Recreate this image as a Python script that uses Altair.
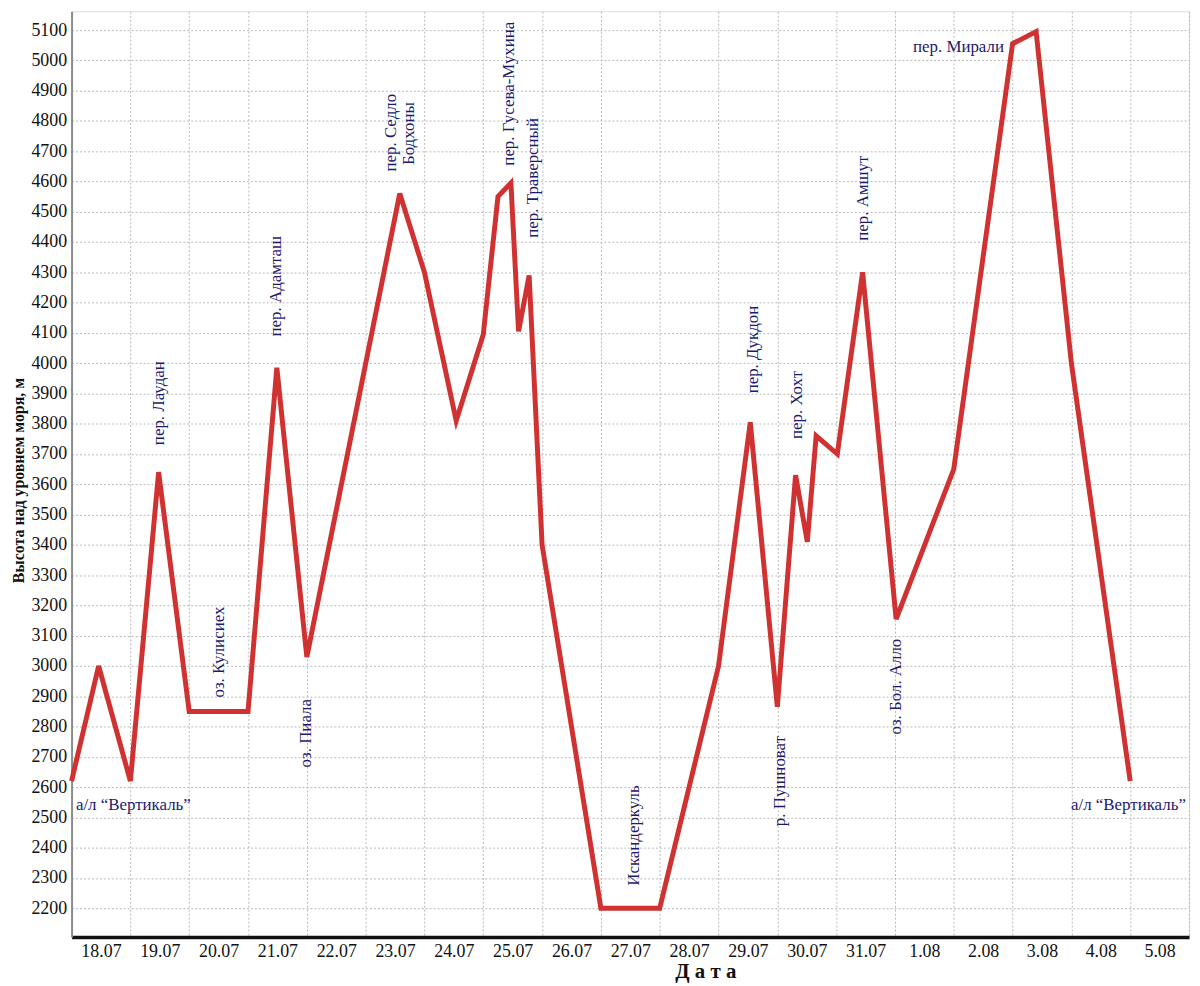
import json
import altair as alt
import pandas as pd

# ---- data ----
day_labels = ["18.07", "19.07", "20.07", "21.07", "22.07", "23.07", "24.07",
              "25.07", "26.07", "27.07", "28.07", "29.07", "30.07", "31.07",
              "1.08", "2.08", "3.08", "4.08", "5.08"]

route_day = [0.00, 0.46, 1.00, 1.48, 2.00, 3.00, 3.49, 4.00, 5.58, 6.00,
             6.54, 7.00, 7.25, 7.47, 7.60, 7.78, 8.00, 9.00, 10.00, 11.00,
             11.54, 12.00, 12.31, 12.51, 12.66, 13.02, 13.45, 14.02, 15.00,
             16.00, 16.40, 17.00, 18.00]
route_alt = [2620, 3000, 2620, 3640, 2850, 2850, 3985, 3030, 4560, 4300,
             3810, 4095, 4550, 4595, 4105, 4290, 3400, 2200, 2200, 3000,
             3805, 2865, 3630, 3410, 3760, 3700, 4300, 3155, 3650,
             5055, 5095, 4000, 2620]

vert_text = ["пер. Лаудан", "оз. Кулисиех", "пер. Адамташ", "оз. Пиала",
             "пер. Седло", "Бодхоны", "пер. Гусева-Мухина", "пер. Траверсный",
             "Искандеркуль", "пер. Дукдон", "р. Пушноват", "пер. Хохт",
             "пер. Амшут", "оз. Бол. Алло"]
vert_day = [1.49, 2.50, 3.48, 3.99, 5.43, 5.74, 7.44, 7.84,
            9.56, 11.58, 12.05, 12.33, 13.45, 14.01]
vert_alt = [3868, 3046, 4254, 2778, 4761, 4758, 4890, 4612,
            2440, 4045, 2620, 3862, 4545, 2932]

horiz_text = ["а/л “Вертикаль”", "а/л “Вертикаль”", "пер. Мирали"]
horiz_day = [1.05, 17.97, 15.08]
horiz_alt = [2540, 2540, 5045]

y_ticks = list(range(2200, 5101, 100))
x_grid = list(range(0, 20))

SERIF = "Liberation Serif, Times New Roman, serif"

# ---- tables ----
route = pd.DataFrame({"day": route_day, "alt": route_alt,
                      "order": list(range(len(route_day)))})
vert = pd.DataFrame({"day": vert_day, "alt": vert_alt, "label": vert_text})
horiz = pd.DataFrame({"day": horiz_day, "alt": horiz_alt, "label": horiz_text})

label_expr = ("datum.value < 19 ? " + json.dumps(day_labels, ensure_ascii=False)
              + "[datum.value] : ''")

x_enc = alt.X(
    "day:Q",
    scale=alt.Scale(domain=[0, 19], nice=False, zero=False),
    axis=alt.Axis(
        values=x_grid, labelExpr=label_expr, labelOffset=29.6, labelFlush=False,
        labelOverlap=False, ticks=False, tickSize=0, labelPadding=6,
        labelFontSize=18, labelColor="#111111", labelFont=SERIF,
        domainColor="#111111", domainWidth=3.5,
        grid=True, gridColor="#b8b8b8", gridDash=[2, 2], gridWidth=1,
        title="Д а т а", titleFontSize=21, titleFontWeight="bold",
        titleFont=SERIF, titleColor="#111111",
        titleX=638, titleY=35, titleAlign="center", titleBaseline="middle",
    ),
)
y_enc = alt.Y(
    "alt:Q",
    scale=alt.Scale(domain=[2105, 5162], nice=False, zero=False),
    axis=alt.Axis(
        values=y_ticks, format="d", ticks=False, tickSize=0, labelPadding=5,
        labelFontSize=18, labelColor="#111111", labelFont=SERIF,
        labelOverlap=False, labelFlush=False,
        domainColor="#8c8c8c", domainWidth=2,
        grid=True, gridColor="#b8b8b8", gridDash=[2, 2], gridWidth=1,
        title="Высота над уровнем моря, м", titleFontSize=16,
        titleFontWeight="bold", titleFont=SERIF, titleColor="#111111",
        titleX=-53, titleY=472, titleAngle=270, titleAlign="center",
        titleBaseline="middle",
    ),
)

line = alt.Chart(route).mark_line(color="#d03232", strokeWidth=5).encode(
    x=x_enc, y=y_enc, order="order:Q"
)

vlabels = alt.Chart(vert).mark_text(
    angle=270, align="center", baseline="middle", fontSize=17,
    font=SERIF, color="#1e1a6e"
).encode(x=x_enc, y=y_enc, text="label:N")

hlabels = alt.Chart(horiz).mark_text(
    align="center", baseline="middle", fontSize=17,
    font=SERIF, color="#1e1a6e"
).encode(x=x_enc, y=y_enc, text="label:N")

chart = alt.layer(line, vlabels, hlabels).properties(
    width=1125, height=932,
    autosize=alt.AutoSizeParams(type="none"),
    padding={"left": 64, "top": 0, "right": 3, "bottom": 46},
    background="white",
).configure_view(stroke="#222222", strokeWidth=1).configure(font=SERIF)

chart.save("out.html", embed_options={"renderer": "svg", "actions": False})
